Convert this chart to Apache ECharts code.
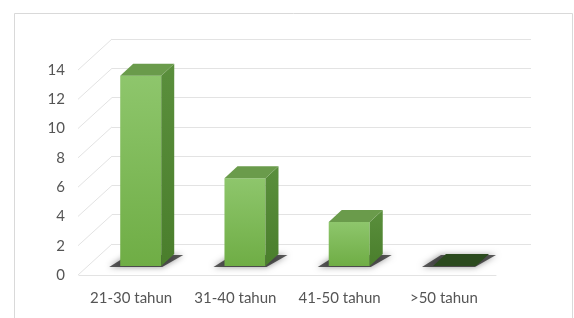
<!DOCTYPE html>
<html>
<head>
<meta charset="utf-8">
<script src="https://cdn.jsdelivr.net/npm/echarts@6/dist/echarts.min.js"></script>
<style>html,body{margin:0;padding:0;background:#fff}#c{width:574px;height:318px}</style>
</head>
<body>
<div id="c"></div>
<script>
var categories = ['21-30 tahun', '31-40 tahun', '41-50 tahun', '>50 tahun'];
var values = [13, 6, 3, 0];
var yTicks = [0, 2, 4, 6, 8, 10, 12, 14];

var DEPTH_X = 33, DEPTH_Y = -31;      // wall depth offset
var BAR_FX = 9.6, BAR_FY = -9;        // bar front-plane offset
var BAR_DX = 13, BAR_DY = -12;        // bar depth
var BAR_W = 41;

var chart = echarts.init(document.getElementById('c'));
var font = 'Lato';

var option = {
  animation: false,
  backgroundColor: '#ffffff',
  graphic: [{
    type: 'rect', z: 0, silent: true,
    shape: { x: 14.5, y: 13.5, width: 558, height: 330 },
    style: { fill: 'none', stroke: '#d9d9d9', lineWidth: 1 }
  }],
  grid: [
    { left: 79, right: 78, top: 70, bottom: 43 },
    { left: 112, right: 43, top: 39, bottom: 74 }
  ],
  xAxis: [
    {
      type: 'category', gridIndex: 0, data: categories,
      axisLine: { show: true, lineStyle: { color: '#e3e3e3', width: 1 } },
      axisTick: { show: false },
      axisLabel: { color: '#555555', fontFamily: font, fontSize: 15, margin: 16, interval: 0 },
      splitLine: { show: false }
    },
    {
      type: 'category', gridIndex: 1, data: categories, show: false
    }
  ],
  yAxis: [
    {
      type: 'value', gridIndex: 0, min: 0, max: 14, interval: 2,
      axisLine: { show: false }, axisTick: { show: false },
      axisLabel: { color: '#555555', fontFamily: font, fontSize: 15, margin: 14 },
      splitLine: { show: false }
    },
    {
      type: 'value', gridIndex: 1, min: 0, max: 14, interval: 2,
      axisLine: { show: false }, axisTick: { show: false },
      axisLabel: { show: false },
      splitLine: { show: true, lineStyle: { color: '#e3e3e3', width: 1 } }
    }
  ],
  series: [
    {
      type: 'custom', xAxisIndex: 0, yAxisIndex: 0, z: 1, clip: false,
      data: yTicks.map(function (t) { return [0, t]; }),
      renderItem: function (params, api) {
        var y = api.coord([0, api.value(1)])[1];
        var x = params.coordSys.x - 1;
        return {
          type: 'line', silent: true,
          shape: { x1: x, y1: y, x2: x + DEPTH_X + 1, y2: y + DEPTH_Y },
          style: { stroke: '#e3e3e3', lineWidth: 1 }
        };
      }
    },
    {
      type: 'custom', xAxisIndex: 0, yAxisIndex: 0, z: 3, clip: false,
      data: values.map(function (v, i) { return [i, v]; }),
      renderItem: function (params, api) {
        var i = api.value(0), v = api.value(1);
        var base = api.coord([i, 0]);
        var top = api.coord([i, v]);
        var xl = base[0] + BAR_FX - BAR_W / 2;
        var xr = base[0] + BAR_FX + BAR_W / 2;
        var yb = base[1] + BAR_FY;
        var yt = top[1] + BAR_FY;
        var children = [];
        // floor shadow
        children.push({
          type: 'polygon', silent: true,
          shape: { points: [[xl - 11, yb + 1], [xr + 1, yb + 1], [xr + BAR_DX + 9, yb + BAR_DY + 1], [xl + BAR_DX - 5, yb + BAR_DY + 1]] },
          style: { fill: 'rgba(25,25,25,0.7)', shadowBlur: 6, shadowColor: 'rgba(0,0,0,0.6)' }
        });
        if (v > 0) {
          children.push({
            type: 'rect', silent: true,
            shape: { x: xl, y: yt, width: xr - xl, height: yb - yt },
            style: {
              fill: new echarts.graphic.LinearGradient(0, 0, 0, 1, [
                { offset: 0, color: '#8ec66c' }, { offset: 1, color: '#6fad45' }
              ])
            }
          });
          children.push({
            type: 'polygon', silent: true,
            shape: { points: [[xr, yt], [xr + BAR_DX, yt + BAR_DY], [xr + BAR_DX, yb + BAR_DY], [xr, yb]] },
            style: {
              fill: new echarts.graphic.LinearGradient(0, 0, 0, 1, [
                { offset: 0, color: '#5a8f3c' }, { offset: 1, color: '#4a7e2c' }
              ])
            }
          });
          children.push({
            type: 'polygon', silent: true,
            shape: { points: [[xl, yt], [xr, yt], [xr + BAR_DX, yt + BAR_DY], [xl + BAR_DX, yt + BAR_DY]] },
            style: { fill: '#6a9b4b' }
          });
        } else {
          children.push({
            type: 'polygon', silent: true,
            shape: { points: [[xl, yt], [xr + 2, yt], [xr + BAR_DX + 2, yt + BAR_DY], [xl + BAR_DX, yt + BAR_DY]] },
            style: { fill: '#2b4a1e' }
          });
        }
        return { type: 'group', children: children };
      }
    }
  ]
};
chart.setOption(option);
</script>
</body>
</html>
